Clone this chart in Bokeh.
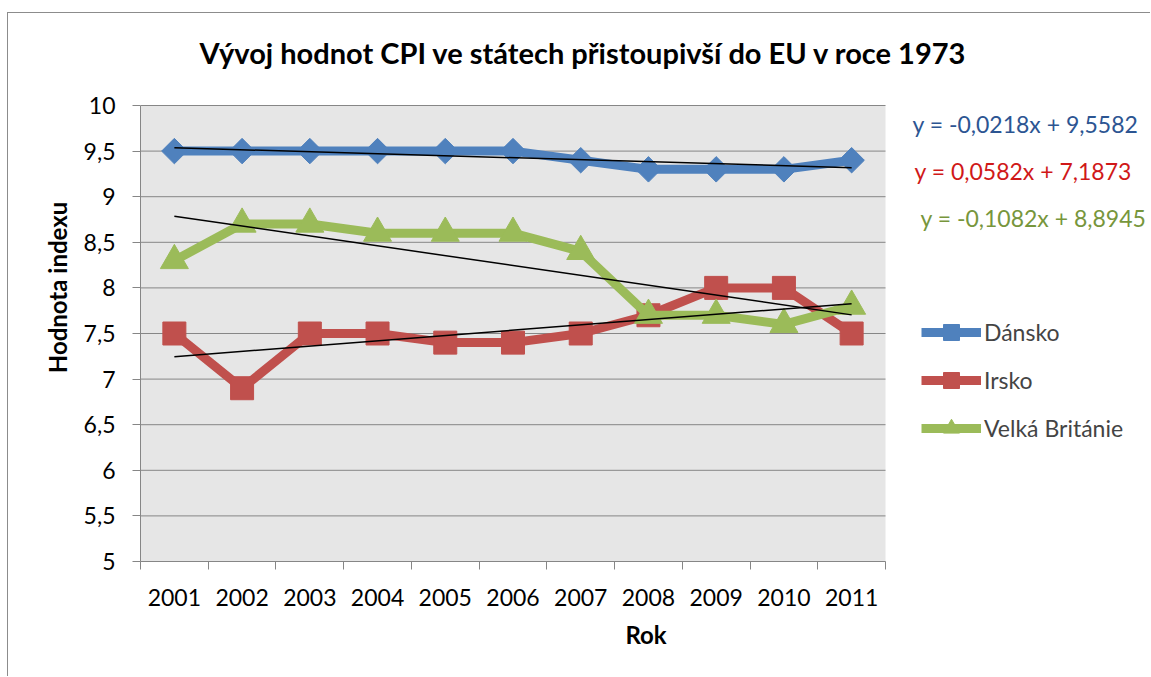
import math
from bokeh.plotting import figure
from bokeh.models import (FixedTicker, CustomJSTickFormatter, Label, Legend,
                          LegendItem, Range1d)
from bokeh.embed import file_html
from bokeh.resources import INLINE

# ---------------- data ----------------
years = ["2001", "2002", "2003", "2004", "2005", "2006", "2007", "2008", "2009", "2010", "2011"]
dansko = [9.5, 9.5, 9.5, 9.5, 9.5, 9.5, 9.4, 9.3, 9.3, 9.3, 9.4]
irsko = [7.5, 6.9, 7.5, 7.5, 7.4, 7.4, 7.5, 7.7, 8.0, 8.0, 7.5]
velka_britanie = [8.3, 8.7, 8.7, 8.6, 8.6, 8.6, 8.4, 7.7, 7.7, 7.6, 7.8]
series_names = ["Dánsko", "Irsko", "Velká Británie"]
trend_slopes = [-0.0218, 0.0582, -0.1082]
trend_intercepts = [9.5582, 7.1873, 8.8945]
trend_labels = ["y = -0,0218x + 9,5582", "y = 0,0582x + 7,1873", "y = -0,1082x + 8,8945"]
y_ticks = [5, 5.5, 6, 6.5, 7, 7.5, 8, 8.5, 9, 9.5, 10]

title_text = "Vývoj hodnot CPI ve státech přistoupivší do EU v roce 1973"
x_title = "Rok"
y_title = "Hodnota indexu"

# ---------------- style ----------------
FONT = "Lato"
colors = ["#4F81BD", "#C0504D", "#9BBB59"]
eq_colors = ["#2C5592", "#D01818", "#77963C"]
markers = ["square", "square", "triangle"]
marker_angles = [math.pi / 4, 0, 0]
marker_sizes = [18, 23, 28]
GRID = "#868686"
PLOT_BG = "#E6E6E6"

x = list(range(1, len(years) + 1))
Y0, Y1 = y_ticks[0], y_ticks[-1]
X0, X1 = 0.5, len(years) + 0.5

# geometry (page px): plot area and canvas
FR_L, FR_T, FR_W, FR_H = 140, 105, 745, 456
FR_B = FR_T + FR_H
CANVAS_X, CANVAS_Y = 8, 13
W, H = 1143, 664
PX_X = FR_W / (X1 - X0)
PX_Y = FR_H / (Y1 - Y0)

p = figure(width=W, height=H, output_backend="svg", toolbar_location=None,
           x_range=Range1d(X0, X0 + (CANVAS_X + W - FR_L) / PX_X),
           y_range=Range1d(Y0, Y0 + (FR_B - CANVAS_Y) / PX_Y),
           min_border_left=FR_L - CANVAS_X, min_border_top=0,
           min_border_right=0, min_border_bottom=CANVAS_Y + H - FR_B)
p.styles = {"border-top": "1px solid #8c8c8c", "border-left": "1px solid #8c8c8c",
            "margin-top": "12px", "margin-left": "7px"}
p.background_fill_color = "white"
p.border_fill_color = "white"
p.outline_line_color = None
p.xgrid.visible = False
p.ygrid.visible = False

# plot area background and horizontal gridlines
p.quad(left=[X0], right=[X1], bottom=[Y0], top=[Y1], fill_color=PLOT_BG, line_color=None)
p.segment(x0=[X0] * len(y_ticks), x1=[X1] * len(y_ticks), y0=y_ticks, y1=y_ticks,
          line_color=GRID, line_width=1)

# y axis
p.yaxis.ticker = FixedTicker(ticks=y_ticks)
p.yaxis.bounds = (Y0, Y1)
p.yaxis.formatter = CustomJSTickFormatter(code="return tick.toString().replace('.', ',');")
for ax in (p.yaxis[0], p.xaxis[0]):
    ax.axis_line_color = GRID
    ax.axis_line_width = 1
    ax.major_tick_line_color = GRID
    ax.minor_tick_line_color = GRID
    ax.major_label_text_font = FONT
    ax.major_label_text_font_size = "23px"
    ax.major_label_text_color = "black"
    ax.axis_label_text_font = FONT
    ax.axis_label_text_font_size = "24px"
    ax.axis_label_text_font_style = "bold"
    ax.axis_label_text_color = "black"
p.yaxis.major_tick_in = 0
p.yaxis.major_tick_out = 8
p.yaxis.minor_tick_out = 0
p.yaxis.minor_tick_in = 0
p.yaxis.major_label_standoff = 17
p.yaxis.axis_label = y_title
p.yaxis.axis_label_standoff = 9

# x axis: labels at category centres, tick marks between categories
p.xaxis.ticker = FixedTicker(ticks=x, minor_ticks=[i + 0.5 for i in range(len(years) + 1)])
p.xaxis.bounds = (X0, X1)
p.xaxis.major_label_overrides = {i: y for i, y in zip(x, years)}
p.xaxis.major_tick_in = 0
p.xaxis.major_tick_out = 0
p.xaxis.minor_tick_in = 0
p.xaxis.minor_tick_out = 8
p.xaxis.major_label_standoff = 19
p.xaxis.axis_label = x_title
p.xaxis.axis_label_standoff = 11

# series
all_series = [dansko, irsko, velka_britanie]
items = []
for name, vals, c, m, a, s in zip(series_names, all_series, colors, markers, marker_angles, marker_sizes):
    ln = p.line(x, vals, line_color=c, line_width=9, line_join="round")
    sc = p.scatter(x, vals, marker=m, size=s, angle=a, fill_color=c, line_color=c)
    items.append(LegendItem(label=name, renderers=[ln, sc]))

# trend lines (from the displayed equations)
for sl, ic in zip(trend_slopes, trend_intercepts):
    xs = [x[0], x[-1]]
    ys = [sl * xs[0] + ic, sl * xs[1] + ic]
    p.line(xs, ys, line_color="black", line_width=1.5)

# helpers: page px -> data
def dx(px):
    return X0 + (px - FR_L) / PX_X

def dy(py):
    return Y0 + (FR_B - py) / PX_Y

# equation labels
eq_pos = [(912, 123), (914, 170), (920, 217)]
for txt, c, (px, py) in zip(trend_labels, eq_colors, eq_pos):
    p.add_layout(Label(x=dx(px), y=dy(py), text=txt, text_color=c, text_font=FONT,
                       text_font_size="23px", text_align="left", text_baseline="middle"))

# title
p.add_layout(Label(x=dx(583), y=dy(52), text=title_text, text_font=FONT,
                   text_font_size="29px", text_font_style="bold", text_align="center",
                   text_baseline="middle", text_color="black"))

legend = Legend(items=items, location=(921 - FR_L, FR_B - 448),
                label_text_font=FONT, label_text_font_size="23px",
                glyph_width=60, glyph_height=40, label_height=40, spacing=8,
                padding=0, margin=0, label_standoff=3,
                border_line_color=None, background_fill_alpha=0)
p.add_layout(legend, "center")

open("out.html", "w").write(file_html(p, INLINE))
